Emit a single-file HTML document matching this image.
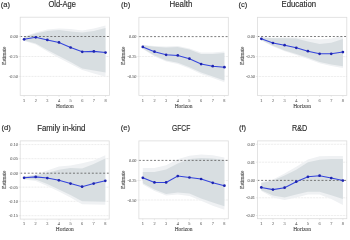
<!DOCTYPE html>
<html><head><meta charset="utf-8"><style>
html,body{margin:0;padding:0;background:#fff;width:350px;height:235px;overflow:hidden}
svg{display:block;will-change:transform}
.tk{font-family:"Liberation Serif",serif;font-size:4.3px;fill:#626262;stroke:#626262;stroke-width:0.06px}
.ax{font-family:"Liberation Serif",serif;font-size:5.45px;fill:#484848;stroke:#484848;stroke-width:0.1px}
.es{font-family:"Liberation Serif",serif;font-size:5.15px;fill:#484848;stroke:#484848;stroke-width:0.1px}
.ti{font-family:"Liberation Sans",sans-serif;font-size:8.2px;fill:#2a2a2a;stroke:#2a2a2a;stroke-width:0.14px}
.lb{font-family:"Liberation Sans",sans-serif;font-size:7.6px;fill:#2a2a2a;stroke:#2a2a2a;stroke-width:0.14px}
</style></head><body>
<svg width="350" height="235" viewBox="0 0 350 235">
<rect width="350" height="235" fill="#fff"/>
<line x1="20.2" x2="109.4" y1="56.5" y2="56.5" stroke="#d8d8d8" stroke-width="0.7" stroke-dasharray="0.7 0.8"/>
<line x1="20.2" x2="109.4" y1="76.4" y2="76.4" stroke="#d8d8d8" stroke-width="0.7" stroke-dasharray="0.7 0.8"/>
<polygon fill="#eff1f3" points="24.1,36.5 35.73,32.5 47.36,29.5 58.99,28.5 70.61,29 82.24,30.5 93.87,28.5 105.5,25.5 105.5,76.8 93.87,73.5 82.24,70 70.61,64 58.99,58 47.36,51.5 35.73,44.5 24.1,41"/>
<polygon fill="#d8dee1" points="24.1,37 35.73,33.5 47.36,31 58.99,30 70.61,31.5 82.24,32.5 93.87,31 105.5,28 105.5,72.6 93.87,70.4 82.24,68.4 70.61,62 58.99,56 47.36,50 35.73,43.5 24.1,40.5"/>
<line x1="20.2" x2="109.4" y1="36.5" y2="36.5" stroke="#5a5a5a" stroke-width="0.8" stroke-dasharray="2 1.77"/>
<polyline fill="none" stroke="#3444dc" stroke-width="1.05" points="24.1,39.3 35.73,37.3 47.36,39.9 58.99,42.4 70.61,47.5 82.24,51.8 93.87,51.4 105.5,52.6"/>
<circle cx="24.1" cy="39.3" r="1.35" fill="#1e24b0"/>
<circle cx="35.73" cy="37.3" r="1.35" fill="#1e24b0"/>
<circle cx="47.36" cy="39.9" r="1.35" fill="#1e24b0"/>
<circle cx="58.99" cy="42.4" r="1.35" fill="#1e24b0"/>
<circle cx="70.61" cy="47.5" r="1.35" fill="#1e24b0"/>
<circle cx="82.24" cy="51.8" r="1.35" fill="#1e24b0"/>
<circle cx="93.87" cy="51.4" r="1.35" fill="#1e24b0"/>
<circle cx="105.5" cy="52.6" r="1.35" fill="#1e24b0"/>
<rect x="20.2" y="17.2" width="89.2" height="78.2" fill="none" stroke="#dcdcdc" stroke-width="0.8"/>
<line x1="18.7" x2="20.2" y1="36.5" y2="36.5" stroke="#dcdcdc" stroke-width="0.6"/>
<text x="17.8" y="38" class="tk" text-anchor="end">0.00</text>
<line x1="18.7" x2="20.2" y1="56.5" y2="56.5" stroke="#dcdcdc" stroke-width="0.6"/>
<text x="17.8" y="58" class="tk" text-anchor="end">-0.25</text>
<line x1="18.7" x2="20.2" y1="76.4" y2="76.4" stroke="#dcdcdc" stroke-width="0.6"/>
<text x="17.8" y="77.9" class="tk" text-anchor="end">-0.50</text>
<line x1="24.1" x2="24.1" y1="95.4" y2="96.9" stroke="#dcdcdc" stroke-width="0.6"/>
<text x="24.1" y="101.6" class="tk" text-anchor="middle">1</text>
<line x1="35.73" x2="35.73" y1="95.4" y2="96.9" stroke="#dcdcdc" stroke-width="0.6"/>
<text x="35.73" y="101.6" class="tk" text-anchor="middle">2</text>
<line x1="47.36" x2="47.36" y1="95.4" y2="96.9" stroke="#dcdcdc" stroke-width="0.6"/>
<text x="47.36" y="101.6" class="tk" text-anchor="middle">3</text>
<line x1="58.99" x2="58.99" y1="95.4" y2="96.9" stroke="#dcdcdc" stroke-width="0.6"/>
<text x="58.99" y="101.6" class="tk" text-anchor="middle">4</text>
<line x1="70.61" x2="70.61" y1="95.4" y2="96.9" stroke="#dcdcdc" stroke-width="0.6"/>
<text x="70.61" y="101.6" class="tk" text-anchor="middle">5</text>
<line x1="82.24" x2="82.24" y1="95.4" y2="96.9" stroke="#dcdcdc" stroke-width="0.6"/>
<text x="82.24" y="101.6" class="tk" text-anchor="middle">6</text>
<line x1="93.87" x2="93.87" y1="95.4" y2="96.9" stroke="#dcdcdc" stroke-width="0.6"/>
<text x="93.87" y="101.6" class="tk" text-anchor="middle">7</text>
<line x1="105.5" x2="105.5" y1="95.4" y2="96.9" stroke="#dcdcdc" stroke-width="0.6"/>
<text x="105.5" y="101.6" class="tk" text-anchor="middle">8</text>
<text x="64.8" y="107.5" class="ax" text-anchor="middle">Horizon</text>
<text transform="translate(5.8,55.7) rotate(-90)" class="es" text-anchor="middle">Estimate</text>
<text x="48.4" y="7.3" class="ti" textLength="27.6" lengthAdjust="spacingAndGlyphs">Old-Age</text>
<text x="0.8" y="6.8" class="lb">(a)</text>
<line x1="138.9" x2="228.3" y1="56.5" y2="56.5" stroke="#d8d8d8" stroke-width="0.7" stroke-dasharray="0.7 0.8"/>
<line x1="138.9" x2="228.3" y1="76.3" y2="76.3" stroke="#d8d8d8" stroke-width="0.7" stroke-dasharray="0.7 0.8"/>
<polygon fill="#eff1f3" points="142.8,45 154.46,46 166.11,46.5 177.77,46 189.43,48.5 201.09,52.5 212.74,52.5 224.4,51.5 224.4,82.2 212.74,78 201.09,74 189.43,68.5 177.77,64 166.11,61.5 154.46,56.5 142.8,49"/>
<polygon fill="#d8dee1" points="142.8,45.3 154.46,46.7 166.11,47.5 177.77,47 189.43,49.6 201.09,54 212.74,54 224.4,53 224.4,80.5 212.74,76.5 201.09,72.5 189.43,67.3 177.77,62.8 166.11,60.5 154.46,55.5 142.8,48.5"/>
<line x1="138.9" x2="228.3" y1="36.6" y2="36.6" stroke="#5a5a5a" stroke-width="0.8" stroke-dasharray="2 1.77"/>
<polyline fill="none" stroke="#3444dc" stroke-width="1.05" points="142.8,46.9 154.46,51.7 166.11,54.8 177.77,55.4 189.43,58.7 201.09,64.1 212.74,66.2 224.4,67.2"/>
<circle cx="142.8" cy="46.9" r="1.35" fill="#1e24b0"/>
<circle cx="154.46" cy="51.7" r="1.35" fill="#1e24b0"/>
<circle cx="166.11" cy="54.8" r="1.35" fill="#1e24b0"/>
<circle cx="177.77" cy="55.4" r="1.35" fill="#1e24b0"/>
<circle cx="189.43" cy="58.7" r="1.35" fill="#1e24b0"/>
<circle cx="201.09" cy="64.1" r="1.35" fill="#1e24b0"/>
<circle cx="212.74" cy="66.2" r="1.35" fill="#1e24b0"/>
<circle cx="224.4" cy="67.2" r="1.35" fill="#1e24b0"/>
<rect x="138.9" y="17.3" width="89.4" height="78.1" fill="none" stroke="#dcdcdc" stroke-width="0.8"/>
<line x1="137.4" x2="138.9" y1="36.6" y2="36.6" stroke="#dcdcdc" stroke-width="0.6"/>
<text x="136.5" y="38.1" class="tk" text-anchor="end">0.00</text>
<line x1="137.4" x2="138.9" y1="56.5" y2="56.5" stroke="#dcdcdc" stroke-width="0.6"/>
<text x="136.5" y="58" class="tk" text-anchor="end">-0.25</text>
<line x1="137.4" x2="138.9" y1="76.3" y2="76.3" stroke="#dcdcdc" stroke-width="0.6"/>
<text x="136.5" y="77.8" class="tk" text-anchor="end">-0.50</text>
<line x1="142.8" x2="142.8" y1="95.4" y2="96.9" stroke="#dcdcdc" stroke-width="0.6"/>
<text x="142.8" y="101.6" class="tk" text-anchor="middle">1</text>
<line x1="154.46" x2="154.46" y1="95.4" y2="96.9" stroke="#dcdcdc" stroke-width="0.6"/>
<text x="154.46" y="101.6" class="tk" text-anchor="middle">2</text>
<line x1="166.11" x2="166.11" y1="95.4" y2="96.9" stroke="#dcdcdc" stroke-width="0.6"/>
<text x="166.11" y="101.6" class="tk" text-anchor="middle">3</text>
<line x1="177.77" x2="177.77" y1="95.4" y2="96.9" stroke="#dcdcdc" stroke-width="0.6"/>
<text x="177.77" y="101.6" class="tk" text-anchor="middle">4</text>
<line x1="189.43" x2="189.43" y1="95.4" y2="96.9" stroke="#dcdcdc" stroke-width="0.6"/>
<text x="189.43" y="101.6" class="tk" text-anchor="middle">5</text>
<line x1="201.09" x2="201.09" y1="95.4" y2="96.9" stroke="#dcdcdc" stroke-width="0.6"/>
<text x="201.09" y="101.6" class="tk" text-anchor="middle">6</text>
<line x1="212.74" x2="212.74" y1="95.4" y2="96.9" stroke="#dcdcdc" stroke-width="0.6"/>
<text x="212.74" y="101.6" class="tk" text-anchor="middle">7</text>
<line x1="224.4" x2="224.4" y1="95.4" y2="96.9" stroke="#dcdcdc" stroke-width="0.6"/>
<text x="224.4" y="101.6" class="tk" text-anchor="middle">8</text>
<text x="183.6" y="107.5" class="ax" text-anchor="middle">Horizon</text>
<text transform="translate(125.2,55.7) rotate(-90)" class="es" text-anchor="middle">Estimate</text>
<text x="169.5" y="7.3" class="ti" textLength="22.8" lengthAdjust="spacingAndGlyphs">Health</text>
<text x="120.9" y="6.8" class="lb">(b)</text>
<line x1="257.4" x2="346.8" y1="56.6" y2="56.6" stroke="#d8d8d8" stroke-width="0.7" stroke-dasharray="0.7 0.8"/>
<line x1="257.4" x2="346.8" y1="76.5" y2="76.5" stroke="#d8d8d8" stroke-width="0.7" stroke-dasharray="0.7 0.8"/>
<polygon fill="#eff1f3" points="261.3,37.2 272.96,37.8 284.61,37.5 296.27,37.5 307.93,38.5 319.59,39.5 331.24,38.5 342.9,36 342.9,68 331.24,66 319.59,63.2 307.93,59 296.27,55 284.61,51.3 272.96,46.5 261.3,40.5"/>
<polygon fill="#d8dee1" points="261.3,37.5 272.96,38.3 284.61,38.3 296.27,38.5 307.93,41.5 319.59,43.9 331.24,42.7 342.9,39.1 342.9,66.2 331.24,64.5 319.59,62 307.93,57.8 296.27,54 284.61,50.4 272.96,45.8 261.3,40"/>
<line x1="257.4" x2="346.8" y1="36.5" y2="36.5" stroke="#5a5a5a" stroke-width="0.8" stroke-dasharray="2 1.77"/>
<polyline fill="none" stroke="#3444dc" stroke-width="1.05" points="261.3,38.8 272.96,43 284.61,45.2 296.27,47.8 307.93,51.2 319.59,53.8 331.24,53.8 342.9,52.1"/>
<circle cx="261.3" cy="38.8" r="1.35" fill="#1e24b0"/>
<circle cx="272.96" cy="43" r="1.35" fill="#1e24b0"/>
<circle cx="284.61" cy="45.2" r="1.35" fill="#1e24b0"/>
<circle cx="296.27" cy="47.8" r="1.35" fill="#1e24b0"/>
<circle cx="307.93" cy="51.2" r="1.35" fill="#1e24b0"/>
<circle cx="319.59" cy="53.8" r="1.35" fill="#1e24b0"/>
<circle cx="331.24" cy="53.8" r="1.35" fill="#1e24b0"/>
<circle cx="342.9" cy="52.1" r="1.35" fill="#1e24b0"/>
<rect x="257.4" y="17.3" width="89.4" height="78.1" fill="none" stroke="#dcdcdc" stroke-width="0.8"/>
<line x1="255.9" x2="257.4" y1="36.5" y2="36.5" stroke="#dcdcdc" stroke-width="0.6"/>
<text x="255" y="38" class="tk" text-anchor="end">0.00</text>
<line x1="255.9" x2="257.4" y1="56.6" y2="56.6" stroke="#dcdcdc" stroke-width="0.6"/>
<text x="255" y="58.1" class="tk" text-anchor="end">-0.25</text>
<line x1="255.9" x2="257.4" y1="76.5" y2="76.5" stroke="#dcdcdc" stroke-width="0.6"/>
<text x="255" y="78" class="tk" text-anchor="end">-0.50</text>
<line x1="261.3" x2="261.3" y1="95.4" y2="96.9" stroke="#dcdcdc" stroke-width="0.6"/>
<text x="261.3" y="101.6" class="tk" text-anchor="middle">1</text>
<line x1="272.96" x2="272.96" y1="95.4" y2="96.9" stroke="#dcdcdc" stroke-width="0.6"/>
<text x="272.96" y="101.6" class="tk" text-anchor="middle">2</text>
<line x1="284.61" x2="284.61" y1="95.4" y2="96.9" stroke="#dcdcdc" stroke-width="0.6"/>
<text x="284.61" y="101.6" class="tk" text-anchor="middle">3</text>
<line x1="296.27" x2="296.27" y1="95.4" y2="96.9" stroke="#dcdcdc" stroke-width="0.6"/>
<text x="296.27" y="101.6" class="tk" text-anchor="middle">4</text>
<line x1="307.93" x2="307.93" y1="95.4" y2="96.9" stroke="#dcdcdc" stroke-width="0.6"/>
<text x="307.93" y="101.6" class="tk" text-anchor="middle">5</text>
<line x1="319.59" x2="319.59" y1="95.4" y2="96.9" stroke="#dcdcdc" stroke-width="0.6"/>
<text x="319.59" y="101.6" class="tk" text-anchor="middle">6</text>
<line x1="331.24" x2="331.24" y1="95.4" y2="96.9" stroke="#dcdcdc" stroke-width="0.6"/>
<text x="331.24" y="101.6" class="tk" text-anchor="middle">7</text>
<line x1="342.9" x2="342.9" y1="95.4" y2="96.9" stroke="#dcdcdc" stroke-width="0.6"/>
<text x="342.9" y="101.6" class="tk" text-anchor="middle">8</text>
<text x="302.1" y="107.5" class="ax" text-anchor="middle">Horizon</text>
<text transform="translate(243.6,55.7) rotate(-90)" class="es" text-anchor="middle">Estimate</text>
<text x="281.5" y="7.3" class="ti" textLength="34.6" lengthAdjust="spacingAndGlyphs">Education</text>
<text x="238.4" y="6.8" class="lb">(c)</text>
<line x1="20.2" x2="109.2" y1="144.6" y2="144.6" stroke="#d8d8d8" stroke-width="0.7" stroke-dasharray="0.7 0.8"/>
<line x1="20.2" x2="109.2" y1="158.7" y2="158.7" stroke="#d8d8d8" stroke-width="0.7" stroke-dasharray="0.7 0.8"/>
<line x1="20.2" x2="109.2" y1="187.1" y2="187.1" stroke="#d8d8d8" stroke-width="0.7" stroke-dasharray="0.7 0.8"/>
<line x1="20.2" x2="109.2" y1="201.3" y2="201.3" stroke="#d8d8d8" stroke-width="0.7" stroke-dasharray="0.7 0.8"/>
<line x1="20.2" x2="109.2" y1="215.7" y2="215.7" stroke="#d8d8d8" stroke-width="0.7" stroke-dasharray="0.7 0.8"/>
<polygon fill="#eff1f3" points="24.1,176 35.7,174.5 47.3,170.5 58.9,166.5 70.5,165.5 82.1,163.2 93.7,160.4 105.3,155.3 105.3,204.7 93.7,204.5 82.1,204.3 70.5,197.5 58.9,191.5 47.3,186 35.7,181 24.1,179.5"/>
<polygon fill="#d8dee1" points="24.1,176.5 35.7,175.3 47.3,173 58.9,169.8 70.5,168 82.1,168.5 93.7,164 105.3,158.5 105.3,201.8 93.7,201.5 82.1,201.3 70.5,195 58.9,189.5 47.3,184 35.7,179.5 24.1,179"/>
<line x1="20.2" x2="109.2" y1="173.2" y2="173.2" stroke="#5a5a5a" stroke-width="0.8" stroke-dasharray="2 1.77"/>
<polyline fill="none" stroke="#3444dc" stroke-width="1.05" points="24.1,177.8 35.7,176.9 47.3,178.1 58.9,180.3 70.5,183.6 82.1,186.7 93.7,183.6 105.3,180.8"/>
<circle cx="24.1" cy="177.8" r="1.35" fill="#1e24b0"/>
<circle cx="35.7" cy="176.9" r="1.35" fill="#1e24b0"/>
<circle cx="47.3" cy="178.1" r="1.35" fill="#1e24b0"/>
<circle cx="58.9" cy="180.3" r="1.35" fill="#1e24b0"/>
<circle cx="70.5" cy="183.6" r="1.35" fill="#1e24b0"/>
<circle cx="82.1" cy="186.7" r="1.35" fill="#1e24b0"/>
<circle cx="93.7" cy="183.6" r="1.35" fill="#1e24b0"/>
<circle cx="105.3" cy="180.8" r="1.35" fill="#1e24b0"/>
<rect x="20.2" y="140.9" width="89" height="78.2" fill="none" stroke="#dcdcdc" stroke-width="0.8"/>
<line x1="18.7" x2="20.2" y1="144.6" y2="144.6" stroke="#dcdcdc" stroke-width="0.6"/>
<text x="17.8" y="146.1" class="tk" text-anchor="end">0.10</text>
<line x1="18.7" x2="20.2" y1="158.7" y2="158.7" stroke="#dcdcdc" stroke-width="0.6"/>
<text x="17.8" y="160.2" class="tk" text-anchor="end">0.05</text>
<line x1="18.7" x2="20.2" y1="173.2" y2="173.2" stroke="#dcdcdc" stroke-width="0.6"/>
<text x="17.8" y="174.7" class="tk" text-anchor="end">0.00</text>
<line x1="18.7" x2="20.2" y1="187.1" y2="187.1" stroke="#dcdcdc" stroke-width="0.6"/>
<text x="17.8" y="188.6" class="tk" text-anchor="end">-0.05</text>
<line x1="18.7" x2="20.2" y1="201.3" y2="201.3" stroke="#dcdcdc" stroke-width="0.6"/>
<text x="17.8" y="202.8" class="tk" text-anchor="end">-0.10</text>
<line x1="18.7" x2="20.2" y1="215.7" y2="215.7" stroke="#dcdcdc" stroke-width="0.6"/>
<text x="17.8" y="217.2" class="tk" text-anchor="end">-0.15</text>
<line x1="24.1" x2="24.1" y1="219.1" y2="220.6" stroke="#dcdcdc" stroke-width="0.6"/>
<text x="24.1" y="225.3" class="tk" text-anchor="middle">1</text>
<line x1="35.7" x2="35.7" y1="219.1" y2="220.6" stroke="#dcdcdc" stroke-width="0.6"/>
<text x="35.7" y="225.3" class="tk" text-anchor="middle">2</text>
<line x1="47.3" x2="47.3" y1="219.1" y2="220.6" stroke="#dcdcdc" stroke-width="0.6"/>
<text x="47.3" y="225.3" class="tk" text-anchor="middle">3</text>
<line x1="58.9" x2="58.9" y1="219.1" y2="220.6" stroke="#dcdcdc" stroke-width="0.6"/>
<text x="58.9" y="225.3" class="tk" text-anchor="middle">4</text>
<line x1="70.5" x2="70.5" y1="219.1" y2="220.6" stroke="#dcdcdc" stroke-width="0.6"/>
<text x="70.5" y="225.3" class="tk" text-anchor="middle">5</text>
<line x1="82.1" x2="82.1" y1="219.1" y2="220.6" stroke="#dcdcdc" stroke-width="0.6"/>
<text x="82.1" y="225.3" class="tk" text-anchor="middle">6</text>
<line x1="93.7" x2="93.7" y1="219.1" y2="220.6" stroke="#dcdcdc" stroke-width="0.6"/>
<text x="93.7" y="225.3" class="tk" text-anchor="middle">7</text>
<line x1="105.3" x2="105.3" y1="219.1" y2="220.6" stroke="#dcdcdc" stroke-width="0.6"/>
<text x="105.3" y="225.3" class="tk" text-anchor="middle">8</text>
<text x="64.7" y="231.2" class="ax" text-anchor="middle">Horizon</text>
<text transform="translate(5.8,179.7) rotate(-90)" class="es" text-anchor="middle">Estimate</text>
<text x="37.2" y="130.5" class="ti" textLength="48.3" lengthAdjust="spacingAndGlyphs">Family in-kind</text>
<text x="1.4" y="130.1" class="lb">(d)</text>
<line x1="138.9" x2="228.3" y1="180.5" y2="180.5" stroke="#d8d8d8" stroke-width="0.7" stroke-dasharray="0.7 0.8"/>
<line x1="138.9" x2="228.3" y1="200" y2="200" stroke="#d8d8d8" stroke-width="0.7" stroke-dasharray="0.7 0.8"/>
<polygon fill="#eff1f3" points="142.8,168 154.46,168 166.11,165.2 177.77,159.2 189.43,155.8 201.09,154.5 212.74,155.3 224.4,157.5 224.4,209.7 212.74,205.8 201.09,200.8 189.43,196 177.77,194.5 166.11,195.5 154.46,191 142.8,184.5"/>
<polygon fill="#d8dee1" points="142.8,172 154.46,172 166.11,169.4 177.77,163.4 189.43,159 201.09,158 212.74,158.5 224.4,160 224.4,206.3 212.74,202.5 201.09,198.5 189.43,193.5 177.77,192.5 166.11,194 154.46,189.5 142.8,183.3"/>
<line x1="138.9" x2="228.3" y1="160.4" y2="160.4" stroke="#5a5a5a" stroke-width="0.8" stroke-dasharray="2 1.77"/>
<polyline fill="none" stroke="#3444dc" stroke-width="1.05" points="142.8,177.8 154.46,182.4 166.11,182.4 177.77,176.1 189.43,177.5 201.09,179 212.74,182.8 224.4,185.7"/>
<circle cx="142.8" cy="177.8" r="1.35" fill="#1e24b0"/>
<circle cx="154.46" cy="182.4" r="1.35" fill="#1e24b0"/>
<circle cx="166.11" cy="182.4" r="1.35" fill="#1e24b0"/>
<circle cx="177.77" cy="176.1" r="1.35" fill="#1e24b0"/>
<circle cx="189.43" cy="177.5" r="1.35" fill="#1e24b0"/>
<circle cx="201.09" cy="179" r="1.35" fill="#1e24b0"/>
<circle cx="212.74" cy="182.8" r="1.35" fill="#1e24b0"/>
<circle cx="224.4" cy="185.7" r="1.35" fill="#1e24b0"/>
<rect x="138.9" y="140.9" width="89.4" height="77.9" fill="none" stroke="#dcdcdc" stroke-width="0.8"/>
<line x1="137.4" x2="138.9" y1="160.4" y2="160.4" stroke="#dcdcdc" stroke-width="0.6"/>
<text x="136.5" y="161.9" class="tk" text-anchor="end">0.00</text>
<line x1="137.4" x2="138.9" y1="180.5" y2="180.5" stroke="#dcdcdc" stroke-width="0.6"/>
<text x="136.5" y="182" class="tk" text-anchor="end">-0.25</text>
<line x1="137.4" x2="138.9" y1="200" y2="200" stroke="#dcdcdc" stroke-width="0.6"/>
<text x="136.5" y="201.5" class="tk" text-anchor="end">-0.50</text>
<line x1="142.8" x2="142.8" y1="218.8" y2="220.3" stroke="#dcdcdc" stroke-width="0.6"/>
<text x="142.8" y="225" class="tk" text-anchor="middle">1</text>
<line x1="154.46" x2="154.46" y1="218.8" y2="220.3" stroke="#dcdcdc" stroke-width="0.6"/>
<text x="154.46" y="225" class="tk" text-anchor="middle">2</text>
<line x1="166.11" x2="166.11" y1="218.8" y2="220.3" stroke="#dcdcdc" stroke-width="0.6"/>
<text x="166.11" y="225" class="tk" text-anchor="middle">3</text>
<line x1="177.77" x2="177.77" y1="218.8" y2="220.3" stroke="#dcdcdc" stroke-width="0.6"/>
<text x="177.77" y="225" class="tk" text-anchor="middle">4</text>
<line x1="189.43" x2="189.43" y1="218.8" y2="220.3" stroke="#dcdcdc" stroke-width="0.6"/>
<text x="189.43" y="225" class="tk" text-anchor="middle">5</text>
<line x1="201.09" x2="201.09" y1="218.8" y2="220.3" stroke="#dcdcdc" stroke-width="0.6"/>
<text x="201.09" y="225" class="tk" text-anchor="middle">6</text>
<line x1="212.74" x2="212.74" y1="218.8" y2="220.3" stroke="#dcdcdc" stroke-width="0.6"/>
<text x="212.74" y="225" class="tk" text-anchor="middle">7</text>
<line x1="224.4" x2="224.4" y1="218.8" y2="220.3" stroke="#dcdcdc" stroke-width="0.6"/>
<text x="224.4" y="225" class="tk" text-anchor="middle">8</text>
<text x="183.6" y="230.9" class="ax" text-anchor="middle">Horizon</text>
<text transform="translate(125,179.7) rotate(-90)" class="es" text-anchor="middle">Estimate</text>
<text x="171.9" y="130.5" class="ti" textLength="18.4" lengthAdjust="spacingAndGlyphs">GFCF</text>
<text x="120.7" y="130.1" class="lb">(e)</text>
<line x1="257.4" x2="346.8" y1="144.3" y2="144.3" stroke="#d8d8d8" stroke-width="0.7" stroke-dasharray="0.7 0.8"/>
<line x1="257.4" x2="346.8" y1="162.2" y2="162.2" stroke="#d8d8d8" stroke-width="0.7" stroke-dasharray="0.7 0.8"/>
<line x1="257.4" x2="346.8" y1="197.8" y2="197.8" stroke="#d8d8d8" stroke-width="0.7" stroke-dasharray="0.7 0.8"/>
<line x1="257.4" x2="346.8" y1="215.5" y2="215.5" stroke="#d8d8d8" stroke-width="0.7" stroke-dasharray="0.7 0.8"/>
<polygon fill="#eff1f3" points="261.3,182 272.96,179.5 284.61,173.5 296.27,166.8 307.93,159.6 319.59,156.3 331.24,155.9 342.9,155.9 342.9,205 331.24,199.1 319.59,194.6 307.93,194.6 296.27,197.5 284.61,200 272.96,197.5 261.3,191"/>
<polygon fill="#d8dee1" points="261.3,183 272.96,180.5 284.61,175.5 296.27,169.8 307.93,162.3 319.59,159.8 331.24,158.9 342.9,158.9 342.9,199 331.24,195.3 319.59,191.7 307.93,191.7 296.27,194.6 284.61,197.5 272.96,195.5 261.3,190.2"/>
<line x1="257.4" x2="346.8" y1="180.4" y2="180.4" stroke="#5a5a5a" stroke-width="0.8" stroke-dasharray="2 1.77"/>
<polyline fill="none" stroke="#3444dc" stroke-width="1.05" points="261.3,187.4 272.96,189.6 284.61,187.7 296.27,181.7 307.93,176.8 319.59,175.7 331.24,178.1 342.9,180.6"/>
<circle cx="261.3" cy="187.4" r="1.35" fill="#1e24b0"/>
<circle cx="272.96" cy="189.6" r="1.35" fill="#1e24b0"/>
<circle cx="284.61" cy="187.7" r="1.35" fill="#1e24b0"/>
<circle cx="296.27" cy="181.7" r="1.35" fill="#1e24b0"/>
<circle cx="307.93" cy="176.8" r="1.35" fill="#1e24b0"/>
<circle cx="319.59" cy="175.7" r="1.35" fill="#1e24b0"/>
<circle cx="331.24" cy="178.1" r="1.35" fill="#1e24b0"/>
<circle cx="342.9" cy="180.6" r="1.35" fill="#1e24b0"/>
<rect x="257.4" y="140.9" width="89.4" height="77.8" fill="none" stroke="#dcdcdc" stroke-width="0.8"/>
<line x1="255.9" x2="257.4" y1="144.3" y2="144.3" stroke="#dcdcdc" stroke-width="0.6"/>
<text x="255" y="145.8" class="tk" text-anchor="end">0.02</text>
<line x1="255.9" x2="257.4" y1="162.2" y2="162.2" stroke="#dcdcdc" stroke-width="0.6"/>
<text x="255" y="163.7" class="tk" text-anchor="end">0.01</text>
<line x1="255.9" x2="257.4" y1="180.4" y2="180.4" stroke="#dcdcdc" stroke-width="0.6"/>
<text x="255" y="181.9" class="tk" text-anchor="end">0.00</text>
<line x1="255.9" x2="257.4" y1="197.8" y2="197.8" stroke="#dcdcdc" stroke-width="0.6"/>
<text x="255" y="199.3" class="tk" text-anchor="end">-0.01</text>
<line x1="255.9" x2="257.4" y1="215.5" y2="215.5" stroke="#dcdcdc" stroke-width="0.6"/>
<text x="255" y="217" class="tk" text-anchor="end">-0.02</text>
<line x1="261.3" x2="261.3" y1="218.7" y2="220.2" stroke="#dcdcdc" stroke-width="0.6"/>
<text x="261.3" y="224.9" class="tk" text-anchor="middle">1</text>
<line x1="272.96" x2="272.96" y1="218.7" y2="220.2" stroke="#dcdcdc" stroke-width="0.6"/>
<text x="272.96" y="224.9" class="tk" text-anchor="middle">2</text>
<line x1="284.61" x2="284.61" y1="218.7" y2="220.2" stroke="#dcdcdc" stroke-width="0.6"/>
<text x="284.61" y="224.9" class="tk" text-anchor="middle">3</text>
<line x1="296.27" x2="296.27" y1="218.7" y2="220.2" stroke="#dcdcdc" stroke-width="0.6"/>
<text x="296.27" y="224.9" class="tk" text-anchor="middle">4</text>
<line x1="307.93" x2="307.93" y1="218.7" y2="220.2" stroke="#dcdcdc" stroke-width="0.6"/>
<text x="307.93" y="224.9" class="tk" text-anchor="middle">5</text>
<line x1="319.59" x2="319.59" y1="218.7" y2="220.2" stroke="#dcdcdc" stroke-width="0.6"/>
<text x="319.59" y="224.9" class="tk" text-anchor="middle">6</text>
<line x1="331.24" x2="331.24" y1="218.7" y2="220.2" stroke="#dcdcdc" stroke-width="0.6"/>
<text x="331.24" y="224.9" class="tk" text-anchor="middle">7</text>
<line x1="342.9" x2="342.9" y1="218.7" y2="220.2" stroke="#dcdcdc" stroke-width="0.6"/>
<text x="342.9" y="224.9" class="tk" text-anchor="middle">8</text>
<text x="302.1" y="230.8" class="ax" text-anchor="middle">Horizon</text>
<text transform="translate(243.7,179.7) rotate(-90)" class="es" text-anchor="middle">Estimate</text>
<text x="292" y="130.5" class="ti" textLength="15.2" lengthAdjust="spacingAndGlyphs">R&amp;D</text>
<text x="238.9" y="130.1" class="lb">(f)</text>
</svg>
</body></html>
